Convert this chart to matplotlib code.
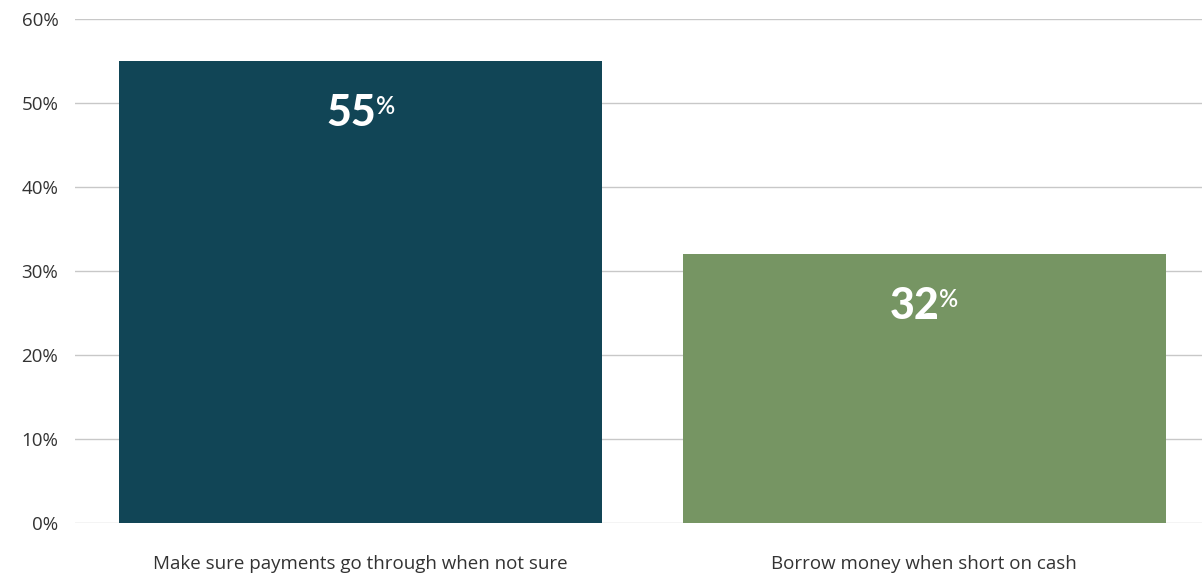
import matplotlib.pyplot as plt
from matplotlib.ticker import FuncFormatter

categories = ['Make sure payments go through when not sure', 'Borrow money when short on cash']
values = [55, 32]
colors = ['#114556', '#769563']
yticks = [0, 10, 20, 30, 40, 50, 60]

plt.rcParams['font.family'] = ['Open Sans', 'DejaVu Sans']

fig = plt.figure(figsize=(12.02, 5.74), dpi=100)
ax = fig.add_axes([0.0624, 0.0889, 0.9376, 0.878])

x = range(len(categories))
bars = ax.bar(x, values, width=0.857, color=colors, zorder=3)

ax.set_ylim(0, 60)
ax.set_xlim(-0.507, 1.493)
ax.set_yticks(yticks)
ax.yaxis.set_major_formatter(FuncFormatter(lambda v, p: f'{v:.0f}%'))
ax.set_xticks(list(x))
ax.set_xticklabels(categories)
ax.tick_params(axis='both', length=0, labelsize=13.5, colors='#333333')
ax.tick_params(axis='y', pad=12)
ax.tick_params(axis='x', pad=23)
ax.grid(axis='y', color='#c8c8c8', linewidth=1, zorder=0)
for s in ax.spines.values():
    s.set_visible(False)

# value labels with small superscript percent sign
fig.canvas.draw()
r = fig.canvas.get_renderer()
for b, v in zip(bars, values):
    cx = b.get_x() + b.get_width() / 2
    t = ax.annotate(str(v), (cx, v), xytext=(-7, -23), textcoords='offset points',
                    ha='center', va='top', color='white', fontsize=31,
                    fontweight='black', family=['Lato', 'DejaVu Sans'], zorder=4)
    bb = t.get_window_extent(r)
    xd, yd = ax.transData.inverted().transform((bb.x1, bb.y1))
    ax.annotate('%', (xd, yd), xytext=(0, -1.5), textcoords='offset points',
                ha='left', va='top', color='white', fontsize=17,
                fontweight='semibold', family=['Lato', 'DejaVu Sans'], zorder=4)

fig.savefig('out.png', dpi=100)
